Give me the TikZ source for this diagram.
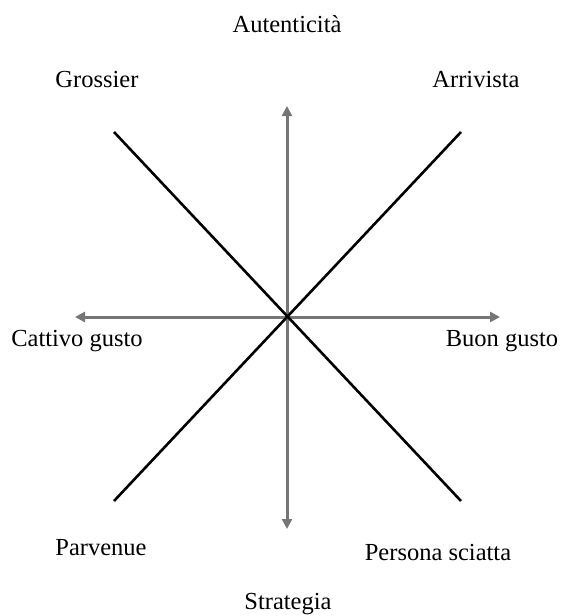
\documentclass[tikz,border=0pt]{standalone}
\usepackage{fontspec}
\setmainfont{Liberation Serif}
\usetikzlibrary{arrows.meta}
\begin{document}
\begin{tikzpicture}[x=1pt,y=-1pt,
  lab/.style={font=\fontsize{24.5}{28}\selectfont, anchor=base, inner sep=0pt},
  axis/.style={draw={rgb,255:red,118;green,118;blue,118}, line width=3pt, {Triangle[length=10pt,width=10pt]}-{Triangle[length=10pt,width=10pt]}},
  diag/.style={draw=black, line width=2.6pt}]
\useasboundingbox (0,0) rectangle (561,616);
\coordinate (O) at (287,317);
\coordinate (T) at (287,106);
\coordinate (B) at (287,529);
\coordinate (L) at (75,317);
\coordinate (R) at (500,317);
\coordinate (TL) at (114,132);
\coordinate (BR) at (461,501);
\coordinate (TR) at (461,132);
\coordinate (BL) at (114,501);
\draw[axis] (T) -- (B);
\draw[axis] (L) -- (R);
\draw[diag] (TL) -- (BR);
\draw[diag] (BL) -- (TR);
\node[lab] (aut) at (287,32) {Autenticità};
\node[lab] (gro) at (97,87) {Grossier};
\node[lab] (arr) at (476,87) {Arrivista};
\node[lab] (cat) at (77,346) {Cattivo gusto};
\node[lab] (buo) at (502,346) {Buon gusto};
\node[lab] (par) at (101,555) {Parvenue};
\node[lab] (per) at (438,560) {Persona sciatta};
\node[lab] (str) at (288,609) {Strategia};
\end{tikzpicture}
\end{document}
